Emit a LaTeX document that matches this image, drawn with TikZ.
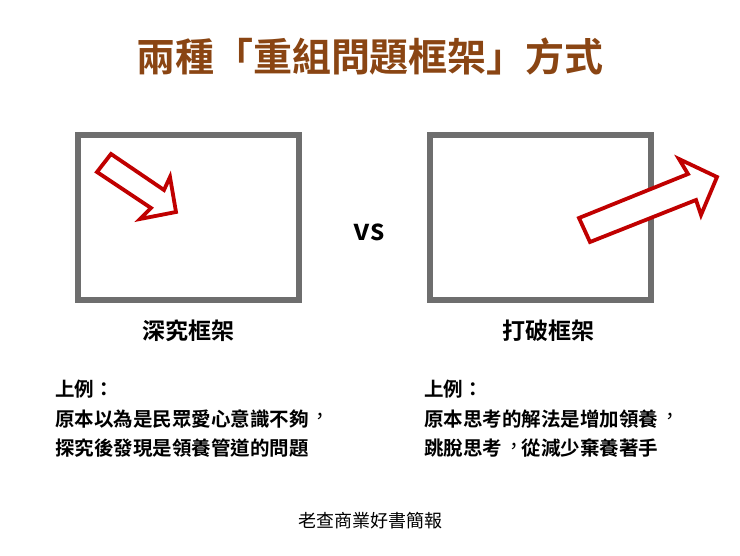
\documentclass[tikz,border=0pt]{standalone}
\usepackage{fontspec}
\newfontfamily\cjk{Noto Sans CJK TC}[BoldFont={* Bold}, Script=CJK, Language=Chinese Traditional]
\newcommand{\tccomma}{\makebox[1em][l]{\hspace{0.1em}\raisebox{0.13em}{\mdseries ，}\hss}}
\definecolor{titlebrown}{HTML}{8A4513}
\definecolor{framegray}{HTML}{6E6E6E}
\definecolor{arrowred}{HTML}{C00000}
\begin{document}
\begin{tikzpicture}[x=1pt,y=-1pt,
  frame/.style={draw=framegray,line width=6pt},
  bigarrow/.style={draw=arrowred,line width=3.8pt,line join=miter,fill=white},
  label/.style={font=\cjk\bfseries\fontsize{23}{23}\selectfont, text=black, inner sep=0pt},
  body/.style={font=\cjk\bfseries\fontsize{19.5}{29.5}\selectfont, align=left, anchor=north west, inner sep=0pt, text=black}]
\useasboundingbox (0,0) rectangle (740,556);
\fill[white] (0,0) rectangle (740,556);
% title
\node[font=\cjk\bfseries\fontsize{39}{39}\selectfont, text=titlebrown, inner sep=0pt] (title) at (370,57) {兩種「重組問題框架」方式};
% frames
\node[frame, minimum width=221pt, minimum height=165pt, inner sep=0pt] (lframe) at (188.5,217.5) {};
\node[frame, minimum width=221pt, minimum height=165pt, inner sep=0pt] (rframe) at (540.5,217.5) {};
% left arrow
\draw[bigarrow] (111,154) -- (164,190) -- (170,177) -- (176,212) -- (140,219) -- (151,208) -- (97,172) -- cycle;
% right arrow
\draw[bigarrow] (579,218) -- (688,174) -- (679,159) -- (717,177) -- (701,215) -- (696,200) -- (590,242) -- cycle;
% vs
\node[font=\cjk\bfseries\fontsize{29}{29}\selectfont, inner sep=0pt, anchor=base] (vs) at (369,241) {vs};
% labels
\node[label] (llabel) at (188,331) {深究框架};
\node[label] (rlabel) at (548,331) {打破框架};
% body texts
\node[body] (ltext) at (55,380) {上例：\\原本以為是民眾愛心意識不夠\tccomma\\探究後發現是領養管道的問題};
\node[body] (rtext) at (424,380) {上例：\\原本思考的解法是增加領養\tccomma\\跳脫思考\tccomma 從減少棄養著手};
% footer
\node[font=\cjk\fontsize{18}{18}\selectfont, inner sep=0pt] (footer) at (370,521) {老查商業好書簡報};
\end{tikzpicture}
\end{document}
